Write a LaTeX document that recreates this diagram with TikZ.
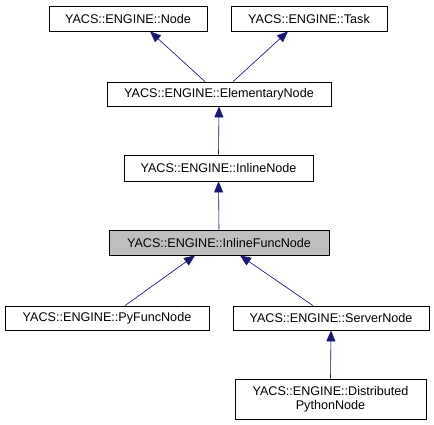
\documentclass[tikz,border=0pt]{standalone}
\usepackage{fontspec}
\setmainfont{Liberation Sans}
\usetikzlibrary{arrows.meta,calc}
\definecolor{edgeblue}{HTML}{191970}
\definecolor{hilite}{HTML}{BFBFBF}
\begin{document}
\begin{tikzpicture}[x=1pt,y=-1pt,
  cls/.style={draw=black,line width=0.8pt,fill=white,inner sep=0pt,font=\fontsize{12.6}{14}\selectfont,align=center},
  inh/.style={draw=edgeblue,line width=0.6pt,-{Triangle[length=11pt,width=9pt]},fill=edgeblue}]
\useasboundingbox (0,0) rectangle (434,425);
\node[cls,minimum width=158pt,minimum height=25pt] (nd) at (128,18.5) {YACS::ENGINE::Node};
\node[cls,minimum width=156pt,minimum height=25pt] (tk) at (309,18.5) {YACS::ENGINE::Task};
\node[cls,minimum width=224pt,minimum height=24pt] (el) at (219,94) {YACS::ENGINE::ElementaryNode};
\node[cls,minimum width=189pt,minimum height=26pt] (in) at (218.5,168) {YACS::ENGINE::InlineNode};
\node[cls,fill=hilite,minimum width=220pt,minimum height=25pt] (if) at (219,242.5) {YACS::ENGINE::InlineFuncNode};
\node[cls,minimum width=204pt,minimum height=24pt] (py) at (107,318) {YACS::ENGINE::PyFuncNode};
\node[cls,minimum width=196pt,minimum height=24pt] (sv) at (331,318) {YACS::ENGINE::ServerNode};
\node[cls,minimum width=191pt,minimum height=40pt] (dp) at (330.5,399) {YACS::ENGINE::Distributed\\PythonNode};
\draw[inh] ([xshift=-14pt]el.north) -- ([xshift=22pt]nd.south);
\draw[inh] ([xshift=14pt]el.north) -- ([xshift=-21pt]tk.south);
\draw[inh] (in.north) -- (el.south);
\draw[inh] (if.north) -- (in.south);
\draw[inh] ([xshift=18pt]py.north) -- ([xshift=-24pt]if.south);
\draw[inh] ([xshift=-18pt]sv.north) -- ([xshift=21pt]if.south);
\draw[inh] (dp.north) -- (sv.south);
\end{tikzpicture}
\end{document}
